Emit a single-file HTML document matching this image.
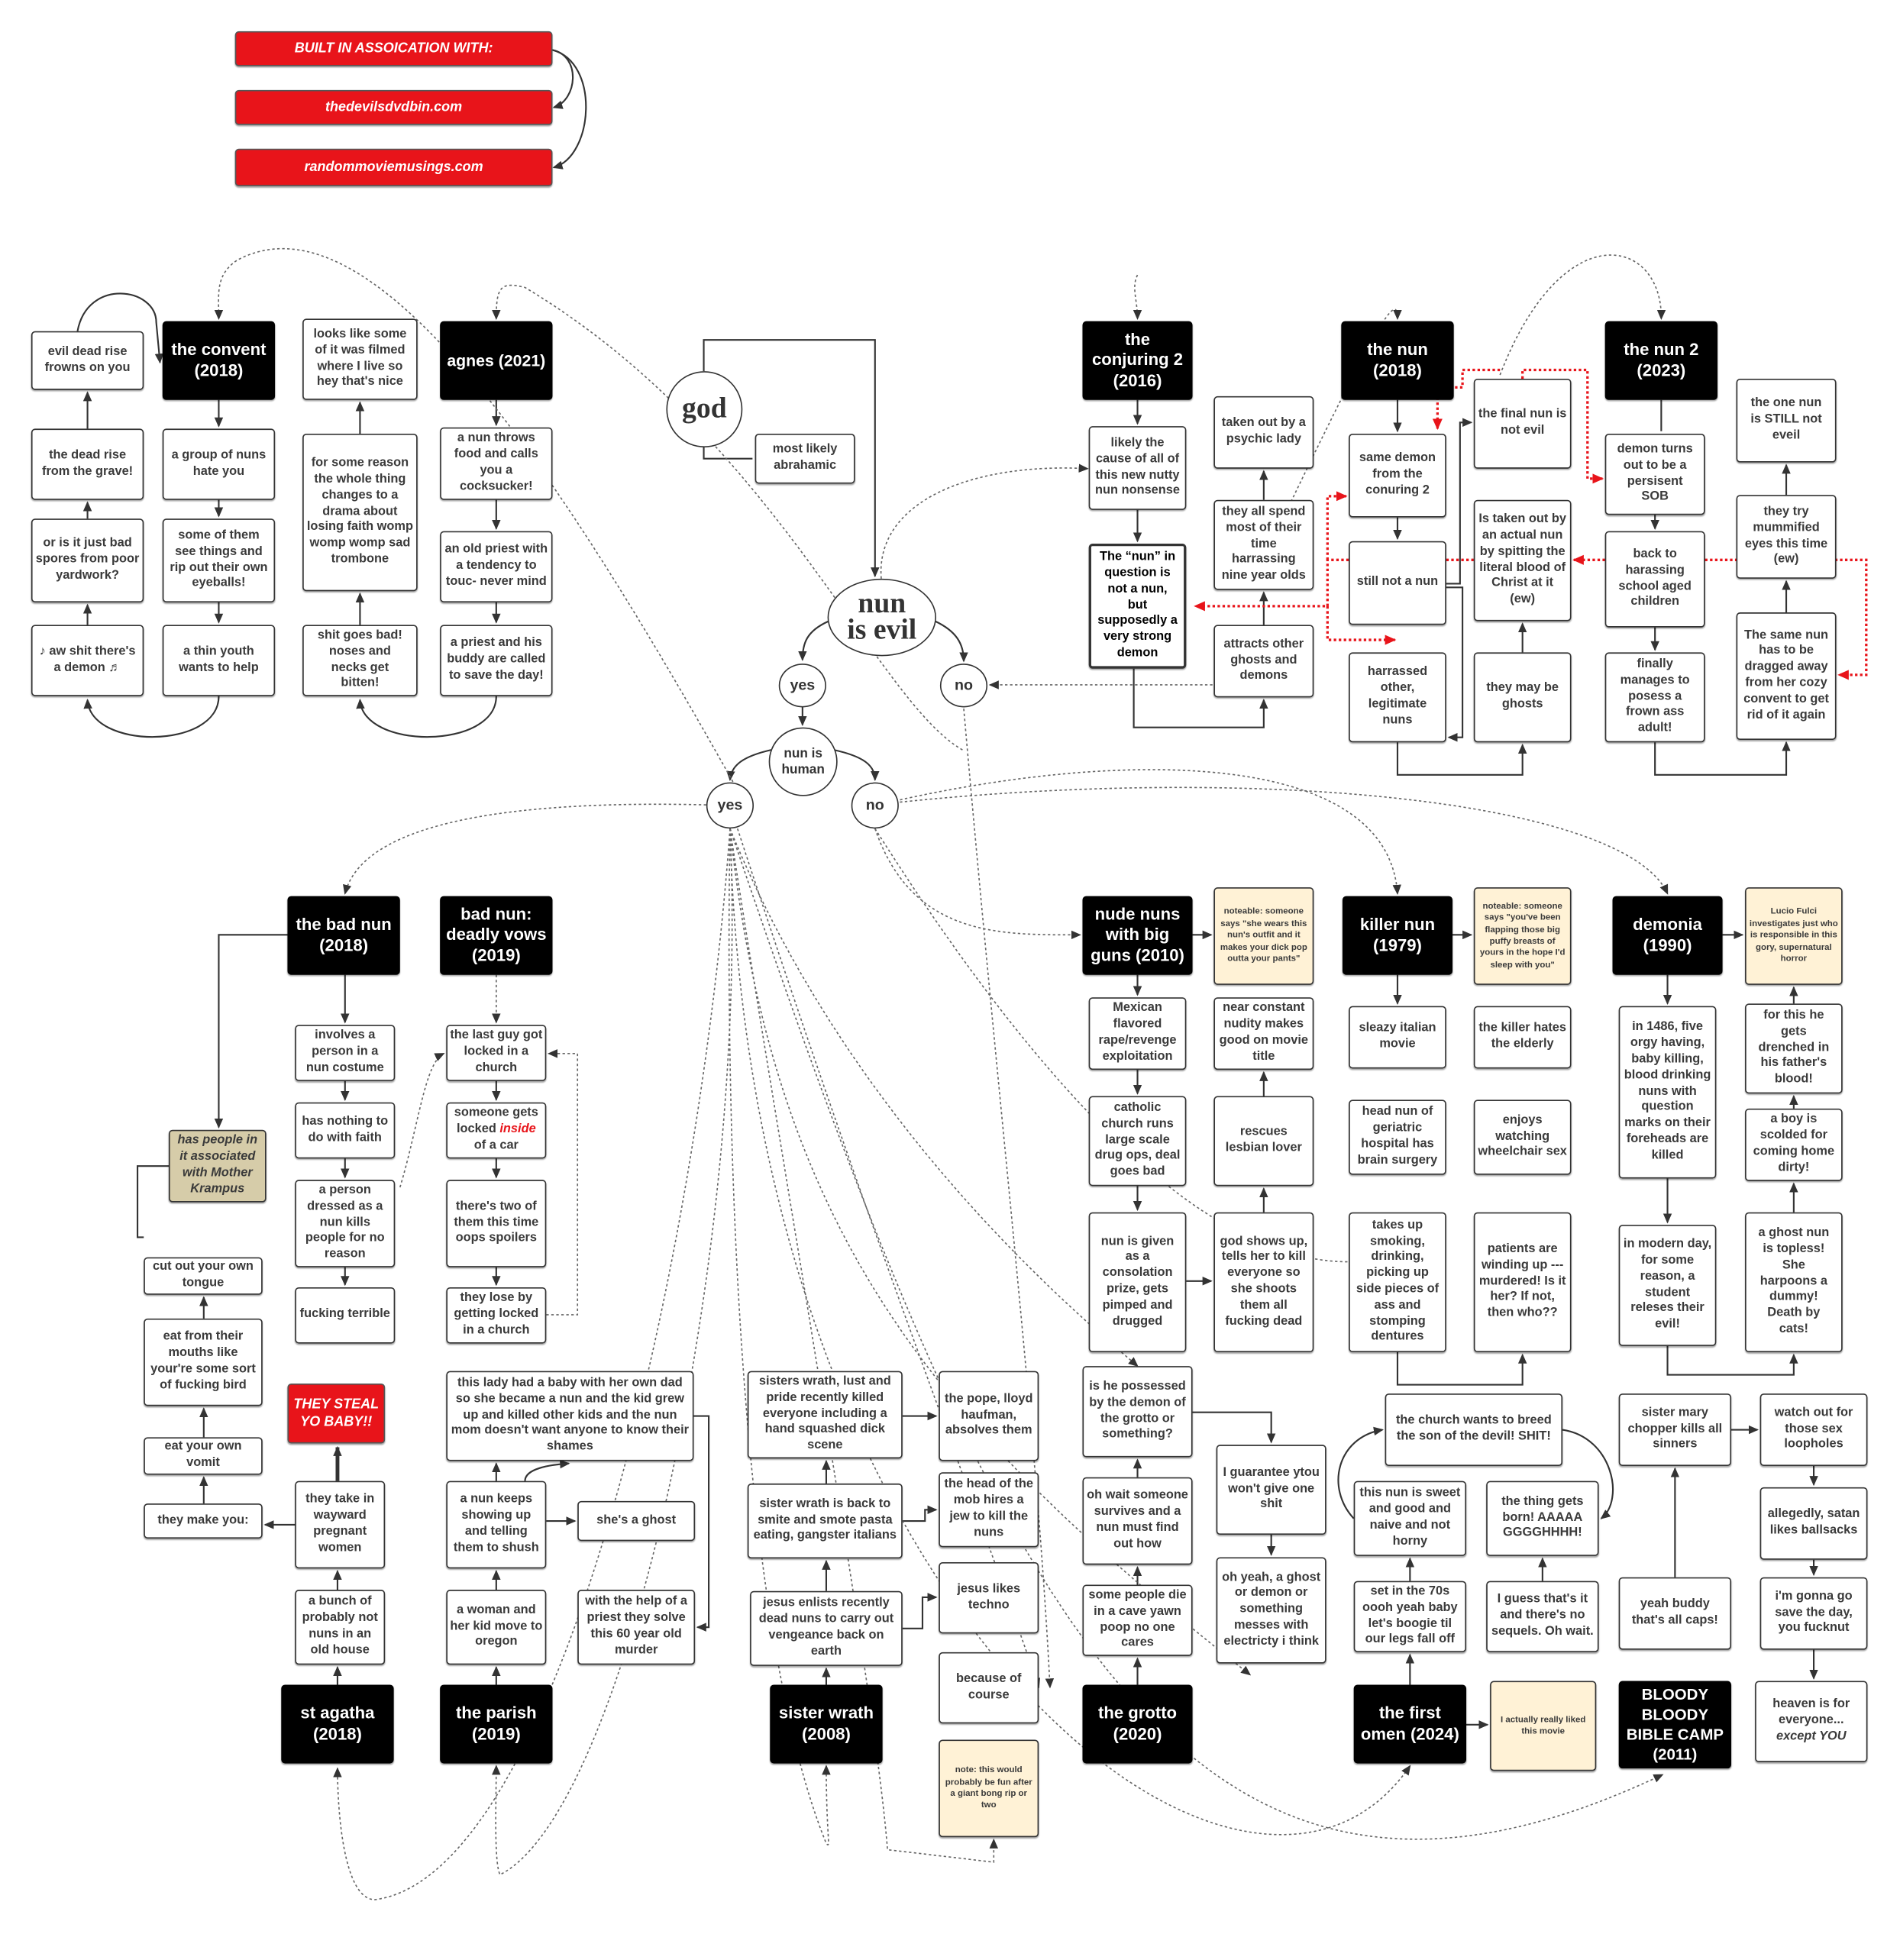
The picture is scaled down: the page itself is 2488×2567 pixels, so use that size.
<!DOCTYPE html>
<html><head><meta charset="utf-8"><style>
html,body{margin:0;padding:0;background:#fff;}
body{width:2488px;height:2566px;overflow:hidden;position:relative;}
#w{position:absolute;left:0;top:0;width:1520px;height:1568px;transform:scale(1.63684);transform-origin:0 0;}
svg{position:absolute;left:0;top:0;}
.b{position:absolute;border:1.5px solid #333;border-radius:3px;background:#fff;display:flex;align-items:center;justify-content:center;text-align:center;font:bold 10px/1.28 "Liberation Sans",sans-serif;color:#3a3a3a;padding:1px 2px;box-sizing:border-box;box-shadow:0 1px 1px rgba(0,0,0,.35);}
.k{background:#000;color:#fff;border-color:#000;font-size:13.5px;line-height:1.2;}
.y{background:#fff2d6;font-size:7px;line-height:1.35;}
.r{background:#e8141a;color:#fff;font-style:italic;font-size:11px;border-color:#555;}
.t{background:#d6cca9;font-style:italic;}
.c{position:absolute;border:1.5px solid #333;border-radius:50%;background:#fff;display:flex;align-items:center;justify-content:center;font:bold 12px "Liberation Sans",sans-serif;color:#333;box-sizing:border-box;text-align:center;line-height:1.2;}
.g{font-family:"Liberation Serif",serif;font-weight:bold;font-size:23px;line-height:.9;}
</style></head><body><div id="w">
<svg width="1520" height="1568" viewBox="0 0 1520 1568">
<defs><marker id="a" markerWidth="8" markerHeight="8" refX="7" refY="4" orient="auto" markerUnits="userSpaceOnUse"><path d="M0,0.5 L8,4 L0,7.5z" fill="#333"/></marker>
<marker id="ar" markerWidth="9" markerHeight="9" refX="8" refY="4.5" orient="auto" markerUnits="userSpaceOnUse"><path d="M0,0.5 L9,4.5 L0,8.5z" fill="#e8141a"/></marker></defs>
<g fill="none" stroke="#333" stroke-width="1.3" marker-end="url(#a)">
<path d="M442,40 C465,45 462,80 443,86"/><path d="M442,40 C480,50 475,125 443,134"/>
<path d="M70,500V484"/><path d="M70,415V402"/><path d="M70,343V314"/>
<path d="M62,265 C70,222 125,230 125,258 L128,290"/>
<path d="M175,557 C175,600 72,600 70,560"/>
<path d="M175,320V341"/><path d="M175,400V413"/><path d="M175,482V498"/>
<path d="M288,500V475"/><path d="M288,347V322"/>
<path d="M397,557 C397,600 290,600 288,560"/>
<path d="M397,320V340"/><path d="M397,400V423"/><path d="M397,482V498"/>
<path d="M563,297V272H700V461"/><path d="M563,357V367H602" marker-end="none"/>
<path d="M663,497 C645,505 642,515 642,528"/><path d="M748,497 C765,505 771,515 771,529"/>
<path d="M642,565V580"/><path d="M617,600 C595,605 585,612 584,624"/><path d="M667,600 C690,605 700,612 700,624"/>
<path d="M910,320V339"/><path d="M910,408V433"/><path d="M907,535V582H1011V560"/>
<path d="M1011,500V474"/><path d="M1011,400V377"/>
<path d="M1118,320V345"/><path d="M1118,414V431"/>
<path d="M1157,467H1168V338H1177"/><path d="M1157,470H1170V590H1159"/>
<path d="M1118,594V620H1218V596"/><path d="M1218,522V499"/>
<path d="M1329,320V345" marker-end="none"/><path d="M1324,412V423"/><path d="M1324,502V520"/>
<path d="M1324,594V620H1429V594"/><path d="M1429,490V465"/><path d="M1429,396V372"/>
<path d="M276,780V818"/><path d="M276,865V880"/><path d="M276,927V942"/><path d="M276,1014V1028"/>
<path d="M230,748H175V902"/><path d="M135,933H110V990H115" marker-end="none"/>
<path d="M163,1203V1182"/><path d="M163,1150V1127"/><path d="M163,1055V1038"/>
<path d="M236,1220H212"/>
<path d="M397,865V880"/><path d="M397,927V942"/><path d="M397,1014V1028"/>
<path d="M270,1348V1334"/><path d="M270,1272V1257"/><path d="M270,1185V1158" stroke-width="3"/>
<path d="M397,1348V1334"/><path d="M397,1272V1257"/><path d="M397,1185V1171"/>
<path d="M437,1217H460"/><path d="M555,1133H567V1302H558"/><path d="M420,1185 C420,1175 440,1172 455,1171"/>
<path d="M661,1348V1335"/><path d="M661,1273V1249"/><path d="M661,1187V1169"/>
<path d="M722,1133H749"/><path d="M722,1217H740V1208H749"/><path d="M722,1303H738V1278H749"/>
<path d="M910,1348V1327"/><path d="M910,1268V1254"/><path d="M910,1182V1168"/>
<path d="M954,1130H1017V1154"/><path d="M1017,1228V1244"/>
<path d="M910,780V796"/><path d="M910,856V875"/><path d="M910,949V968"/><path d="M949,1025H969"/>
<path d="M1011,970V951"/><path d="M1011,877V858"/><path d="M954,748H969"/>
<path d="M1118,780V803"/><path d="M1162,748H1177"/><path d="M1378,748H1394"/>
<path d="M1118,1082V1108H1218V1084"/>
<path d="M1334,780V803"/><path d="M1334,943V978"/><path d="M1334,1077V1100H1435V1084"/>
<path d="M1435,970V947"/><path d="M1435,887V877"/><path d="M1435,803V790"/>
<path d="M1128,1348V1324"/><path d="M1128,1265V1247"/><path d="M1234,1265V1247"/>
<path d="M1083,1215 C1060,1190 1070,1150 1106,1144"/><path d="M1250,1144 C1290,1150 1300,1200 1281,1215"/>
<path d="M1173,1380H1190"/>
<path d="M1340,1262V1175"/><path d="M1385,1144H1406"/>
<path d="M1451,1173V1188"/><path d="M1451,1248V1260"/><path d="M1451,1320V1343"/>
</g>
<g fill="none" stroke="#e8141a" stroke-width="2" stroke-dasharray="2,2" marker-end="url(#ar)">
<path d="M1179,448H1062V485H956"/><path d="M1062,448V397H1077"/><path d="M1062,485V512H1116"/>
<path d="M1218,303V296H1270V383H1282"/><path d="M1200,296H1170V310H1150V343"/>
<path d="M1284,448H1259"/><path d="M1364,448H1493V540H1471"/>
</g>
<g fill="none" stroke="#666" stroke-width="1" stroke-dasharray="2,2" marker-end="url(#a)">
<path d="M565,644 C400,640 290,660 276,715"/>
<path d="M700,663 C730,750 800,748 864,748"/>
<path d="M720,640 C900,600 1110,600 1118,715"/>
<path d="M700,644 C1000,610 1300,640 1334,715"/>
<path d="M990,548 L792,548"/>
<path d="M770,600 C700,560 620,350 420,230 C400,225 397,230 397,255"/>
<path d="M600,650 C450,380 300,150 190,208 C172,220 175,235 175,255"/>
<path d="M705,463 C700,400 780,370 870,375"/>
<path d="M910,220 C905,230 910,240 910,255"/>
<path d="M1000,470 C1100,260 1118,230 1118,255"/>
<path d="M1200,300 C1250,170 1330,190 1329,255"/>
<path d="M397,780V818"/>
<path d="M437,1052H462V843H439"/>
<path d="M320,950 C335,900 340,850 355,843"/>
<path d="M584,663 C580,900 590,1300 661,1475 C665,1480 661,1470 661,1413"/>
<path d="M584,663 C600,1000 500,1450 400,1500 C395,1490 397,1440 397,1413"/>
<path d="M584,663 C560,1000 450,1500 300,1520 C275,1520 270,1450 270,1415"/>
<path d="M584,663 C620,900 700,1350 710,1480 L795,1490 V1472"/>
<path d="M584,663 C680,900 860,1050 910,1093"/>
<path d="M590,663 C700,1000 780,1200 831,1350"/>
<path d="M771,567 C800,900 830,1150 840,1350"/>
<path d="M584,663 C620,1000 760,1150 1000,1340"/>
<path d="M700,663 C850,900 1000,1050 1130,1000"/>
<path d="M584,663 C800,1300 950,1600 1330,1420"/>
<path d="M584,663 C600,1300 1000,1600 1128,1413"/>
</g>
</svg>
<div class="b r" style="left:188px;top:25px;width:254px;height:28px">BUILT IN ASSOICATION WITH:</div>
<div class="b r" style="left:188px;top:72px;width:254px;height:28px">thedevilsdvdbin.com</div>
<div class="b r" style="left:188px;top:119px;width:254px;height:30px">randommoviemusings.com</div>

<div class="b" style="left:25px;top:265px;width:90px;height:47px">evil dead rise frowns on you</div>
<div class="b k" style="left:130px;top:257px;width:90px;height:63px">the convent (2018)</div>
<div class="b" style="left:242px;top:255px;width:92px;height:65px">looks like some of it was filmed where I live so hey that's nice</div>
<div class="b k" style="left:352px;top:257px;width:90px;height:63px;white-space:nowrap;font-size:13px">agnes (2021)</div>
<div class="b" style="left:25px;top:343px;width:90px;height:57px">the dead rise from the grave!</div>
<div class="b" style="left:130px;top:343px;width:90px;height:57px">a group of nuns hate you</div>
<div class="b" style="left:242px;top:347px;width:92px;height:126px">for some reason the whole thing changes to a drama about losing faith womp womp womp sad trombone</div>
<div class="b" style="left:352px;top:342px;width:90px;height:58px">a nun throws food and calls you a cocksucker!</div>
<div class="b" style="left:25px;top:415px;width:90px;height:67px">or is it just bad spores from poor yardwork?</div>
<div class="b" style="left:130px;top:415px;width:90px;height:67px">some of them see things and rip out their own eyeballs!</div>
<div class="b" style="left:352px;top:425px;width:90px;height:57px">an old priest with a tendency to touc- never mind</div>
<div class="b" style="left:25px;top:500px;width:90px;height:57px">♪ aw shit there's a demon ♬</div>
<div class="b" style="left:130px;top:500px;width:90px;height:57px">a thin youth wants to help</div>
<div class="b" style="left:242px;top:500px;width:92px;height:57px;padding:1px 10px">shit goes bad! noses and necks get bitten!</div>
<div class="b" style="left:352px;top:500px;width:90px;height:57px">a priest and his buddy are called to save the day!</div>

<div class="c g" style="left:533px;top:297px;width:61px;height:61px">god</div>
<div class="b" style="left:604px;top:347px;width:80px;height:40px">most likely abrahamic</div>
<div class="c g" style="left:662px;top:463px;width:87px;height:62px">nun<br>is evil</div>
<div class="c" style="left:623px;top:531px;width:38px;height:35px">yes</div>
<div class="c" style="left:752px;top:531px;width:38px;height:35px">no</div>
<div class="c" style="left:615px;top:582px;width:55px;height:55px;font-size:10.5px">nun is human</div>
<div class="c" style="left:565px;top:626px;width:38px;height:37px">yes</div>
<div class="c" style="left:681px;top:626px;width:38px;height:37px">no</div>

<div class="b k" style="left:866px;top:257px;width:88px;height:63px">the conjuring 2 (2016)</div>
<div class="b" style="left:871px;top:341px;width:78px;height:67px;padding:1px 4px">likely the cause of all of this new nutty nun nonsense</div>
<div class="b" style="left:871px;top:435px;width:78px;height:100px;color:#000;border-width:2px;padding:1px 4px">The “nun” in question is not a nun, but supposedly a very strong demon</div>
<div class="b" style="left:971px;top:317px;width:80px;height:58px">taken out by a psychic lady</div>
<div class="b" style="left:971px;top:400px;width:80px;height:72px">they all spend most of their time harrassing nine year olds</div>
<div class="b" style="left:971px;top:500px;width:80px;height:58px">attracts other ghosts and demons</div>
<div class="b k" style="left:1073px;top:257px;width:90px;height:63px">the nun (2018)</div>
<div class="b" style="left:1079px;top:347px;width:78px;height:67px;padding:1px 6px">same demon from the conuring 2</div>
<div class="b" style="left:1079px;top:433px;width:78px;height:67px">still not a nun</div>
<div class="b" style="left:1079px;top:522px;width:78px;height:72px;padding:1px 8px">harrassed other, legitimate nuns</div>
<div class="b" style="left:1179px;top:303px;width:78px;height:72px">the final nun is not evil</div>
<div class="b" style="left:1179px;top:400px;width:78px;height:97px">Is taken out by an actual nun by spitting the literal blood of Christ at it (ew)</div>
<div class="b" style="left:1179px;top:522px;width:78px;height:72px">they may be ghosts</div>
<div class="b k" style="left:1284px;top:257px;width:90px;height:63px">the nun 2 (2023)</div>
<div class="b" style="left:1284px;top:347px;width:80px;height:65px;padding:1px 6px">demon turns out to be a persisent SOB</div>
<div class="b" style="left:1284px;top:425px;width:80px;height:77px">back to harassing school aged children</div>
<div class="b" style="left:1284px;top:522px;width:80px;height:72px;padding:1px 6px">finally manages to posess a frown ass adult!</div>
<div class="b" style="left:1389px;top:303px;width:80px;height:67px;padding:1px 8px">the one nun is STILL not eveil</div>
<div class="b" style="left:1389px;top:396px;width:80px;height:67px">they try mummified eyes this time (ew)</div>
<div class="b" style="left:1389px;top:490px;width:80px;height:102px">The same nun has to be dragged away from her cozy convent to get rid of it again</div>

<div class="b k" style="left:230px;top:717px;width:90px;height:63px">the bad nun (2018)</div>
<div class="b k" style="left:352px;top:717px;width:90px;height:63px">bad nun: deadly vows (2019)</div>
<div class="b k" style="left:866px;top:717px;width:88px;height:63px">nude nuns with big guns (2010)</div>
<div class="b y" style="left:971px;top:710px;width:80px;height:78px">noteable: someone says "she wears this nun's outfit and it makes your dick pop outta your pants"</div>
<div class="b k" style="left:1074px;top:717px;width:88px;height:63px">killer nun (1979)</div>
<div class="b y" style="left:1179px;top:710px;width:78px;height:78px">noteable: someone says "you've been flapping those big puffy breasts of yours in the hope I'd sleep with you"</div>
<div class="b k" style="left:1290px;top:717px;width:88px;height:63px">demonia (1990)</div>
<div class="b y" style="left:1396px;top:710px;width:78px;height:78px">Lucio Fulci investigates just who is responsible in this gory, supernatural horror</div>

<div class="b" style="left:236px;top:820px;width:80px;height:45px">involves a person in a nun costume</div>
<div class="b" style="left:236px;top:882px;width:80px;height:45px">has nothing to do with faith</div>
<div class="b" style="left:236px;top:944px;width:80px;height:70px">a person dressed as a nun kills people for no reason</div>
<div class="b" style="left:236px;top:1030px;width:80px;height:45px">fucking terrible</div>
<div class="b t" style="left:135px;top:904px;width:78px;height:58px">has people in it associated with Mother Krampus</div>
<div class="b" style="left:115px;top:1006px;width:95px;height:30px">cut out your own tongue</div>
<div class="b" style="left:115px;top:1055px;width:95px;height:70px">eat from their mouths like your're some sort of fucking bird</div>
<div class="b" style="left:115px;top:1150px;width:95px;height:30px">eat your own vomit</div>
<div class="b" style="left:115px;top:1203px;width:95px;height:28px">they make you:</div>
<div class="b" style="left:357px;top:820px;width:80px;height:45px">the last guy got locked in a church</div>
<div class="b" style="left:357px;top:882px;width:80px;height:45px"><span>someone gets locked <i style="color:#e8141a">inside</i> of a car</span></div>
<div class="b" style="left:357px;top:944px;width:80px;height:70px">there's two of them this time oops spoilers</div>
<div class="b" style="left:357px;top:1030px;width:80px;height:45px">they lose by getting locked in a church</div>

<div class="b r" style="left:230px;top:1107px;width:78px;height:48px">THEY STEAL YO BABY!!</div>
<div class="b" style="left:236px;top:1185px;width:72px;height:70px">they take in wayward pregnant women</div>
<div class="b" style="left:236px;top:1272px;width:72px;height:60px">a bunch of probably not nuns in an old house</div>
<div class="b k" style="left:225px;top:1348px;width:90px;height:63px">st agatha (2018)</div>
<div class="b" style="left:357px;top:1097px;width:198px;height:72px">this lady had a baby with her own dad so she became a nun and the kid grew up and killed other kids and the nun mom doesn't want anyone to know their shames</div>
<div class="b" style="left:357px;top:1185px;width:80px;height:70px">a nun keeps showing up and telling them to shush</div>
<div class="b" style="left:462px;top:1201px;width:94px;height:32px">she's a ghost</div>
<div class="b" style="left:357px;top:1272px;width:80px;height:60px">a woman and her kid move to oregon</div>
<div class="b" style="left:462px;top:1272px;width:94px;height:60px">with the help of a priest they solve this 60 year old murder</div>
<div class="b k" style="left:352px;top:1348px;width:90px;height:63px">the parish (2019)</div>

<div class="b" style="left:598px;top:1097px;width:124px;height:70px">sisters wrath, lust and pride recently killed everyone including a hand squashed dick scene</div>
<div class="b" style="left:598px;top:1187px;width:124px;height:60px">sister wrath is back to smite and smote pasta eating, gangster italians</div>
<div class="b" style="left:600px;top:1273px;width:122px;height:60px">jesus enlists recently dead nuns to carry out vengeance back on earth</div>
<div class="b k" style="left:616px;top:1348px;width:90px;height:63px">sister wrath (2008)</div>
<div class="b" style="left:751px;top:1097px;width:80px;height:72px">the pope, lloyd haufman, absolves them</div>
<div class="b" style="left:751px;top:1178px;width:80px;height:60px">the head of the mob hires a jew to kill the nuns</div>
<div class="b" style="left:751px;top:1250px;width:80px;height:57px">jesus likes techno</div>
<div class="b" style="left:751px;top:1322px;width:80px;height:57px">because of course</div>
<div class="b y" style="left:751px;top:1392px;width:80px;height:78px">note: this would probably be fun after a giant bong rip or two</div>

<div class="b" style="left:866px;top:1093px;width:88px;height:73px">is he possessed by the demon of the grotto or something?</div>
<div class="b" style="left:866px;top:1182px;width:88px;height:70px">oh wait someone survives and a nun must find out how</div>
<div class="b" style="left:866px;top:1268px;width:88px;height:57px">some people die in a cave yawn poop no one cares</div>
<div class="b k" style="left:866px;top:1348px;width:88px;height:63px">the grotto (2020)</div>
<div class="b" style="left:973px;top:1156px;width:88px;height:72px">I guarantee ytou won't give one shit</div>
<div class="b" style="left:973px;top:1246px;width:88px;height:85px">oh yeah, a ghost or demon or something messes with electricty i think</div>

<div class="b" style="left:871px;top:798px;width:78px;height:58px">Mexican flavored rape/revenge exploitation</div>
<div class="b" style="left:971px;top:798px;width:80px;height:58px">near constant nudity makes good on movie title</div>
<div class="b" style="left:871px;top:877px;width:78px;height:72px">catholic church runs large scale drug ops, deal goes bad</div>
<div class="b" style="left:971px;top:877px;width:80px;height:72px">rescues lesbian lover</div>
<div class="b" style="left:871px;top:970px;width:78px;height:112px">nun is given as a consolation prize, gets pimped and drugged</div>
<div class="b" style="left:971px;top:970px;width:80px;height:112px">god shows up, tells her to kill everyone so she shoots them all fucking dead</div>
<div class="b" style="left:1079px;top:805px;width:78px;height:50px">sleazy italian movie</div>
<div class="b" style="left:1179px;top:805px;width:78px;height:50px">the killer hates the elderly</div>
<div class="b" style="left:1079px;top:880px;width:78px;height:60px">head nun of geriatric hospital has brain surgery</div>
<div class="b" style="left:1179px;top:880px;width:78px;height:60px">enjoys watching wheelchair sex</div>
<div class="b" style="left:1079px;top:970px;width:78px;height:112px">takes up smoking, drinking, picking up side pieces of ass and stomping dentures</div>
<div class="b" style="left:1179px;top:970px;width:78px;height:112px">patients are winding up --- murdered! Is it her? If not, then who??</div>
<div class="b" style="left:1295px;top:805px;width:78px;height:138px">in 1486, five orgy having, baby killing, blood drinking nuns with question marks on their foreheads are killed</div>
<div class="b" style="left:1295px;top:980px;width:78px;height:97px">in modern day, for some reason, a student releses their evil!</div>
<div class="b" style="left:1396px;top:803px;width:78px;height:72px;padding:1px 8px">for this he gets drenched in his father's blood!</div>
<div class="b" style="left:1396px;top:887px;width:78px;height:58px">a boy is scolded for coming home dirty!</div>
<div class="b" style="left:1396px;top:970px;width:78px;height:112px;padding:1px 6px">a ghost nun is topless! She harpoons a dummy! Death by cats!</div>

<div class="b" style="left:1108px;top:1115px;width:142px;height:58px">the church wants to breed the son of the devil! SHIT!</div>
<div class="b" style="left:1083px;top:1185px;width:90px;height:60px">this nun is sweet and good and naive and not horny</div>
<div class="b" style="left:1189px;top:1185px;width:90px;height:60px">the thing gets born! AAAAA GGGGHHHH!</div>
<div class="b" style="left:1083px;top:1265px;width:90px;height:57px">set in the 70s oooh yeah baby let's boogie til our legs fall off</div>
<div class="b" style="left:1189px;top:1265px;width:90px;height:57px">I guess that's it and there's no sequels. Oh wait.</div>
<div class="b k" style="left:1083px;top:1348px;width:90px;height:63px">the first omen (2024)</div>
<div class="b y" style="left:1192px;top:1345px;width:85px;height:72px">I actually really liked this movie</div>
<div class="b" style="left:1295px;top:1115px;width:90px;height:58px">sister mary chopper kills all sinners</div>
<div class="b" style="left:1408px;top:1115px;width:86px;height:58px">watch out for those sex loopholes</div>
<div class="b" style="left:1408px;top:1190px;width:86px;height:58px">allegedly, satan likes ballsacks</div>
<div class="b" style="left:1408px;top:1262px;width:86px;height:58px">i'm gonna go save the day, you fucknut</div>
<div class="b" style="left:1295px;top:1262px;width:90px;height:58px">yeah buddy that's all caps!</div>
<div class="b k" style="left:1295px;top:1345px;width:90px;height:70px;font-size:12.5px;line-height:1.3">BLOODY BLOODY BIBLE CAMP (2011)</div>
<div class="b" style="left:1404px;top:1345px;width:90px;height:65px"><span>heaven is for everyone... <i>except YOU</i></span></div>
</div></body></html>
